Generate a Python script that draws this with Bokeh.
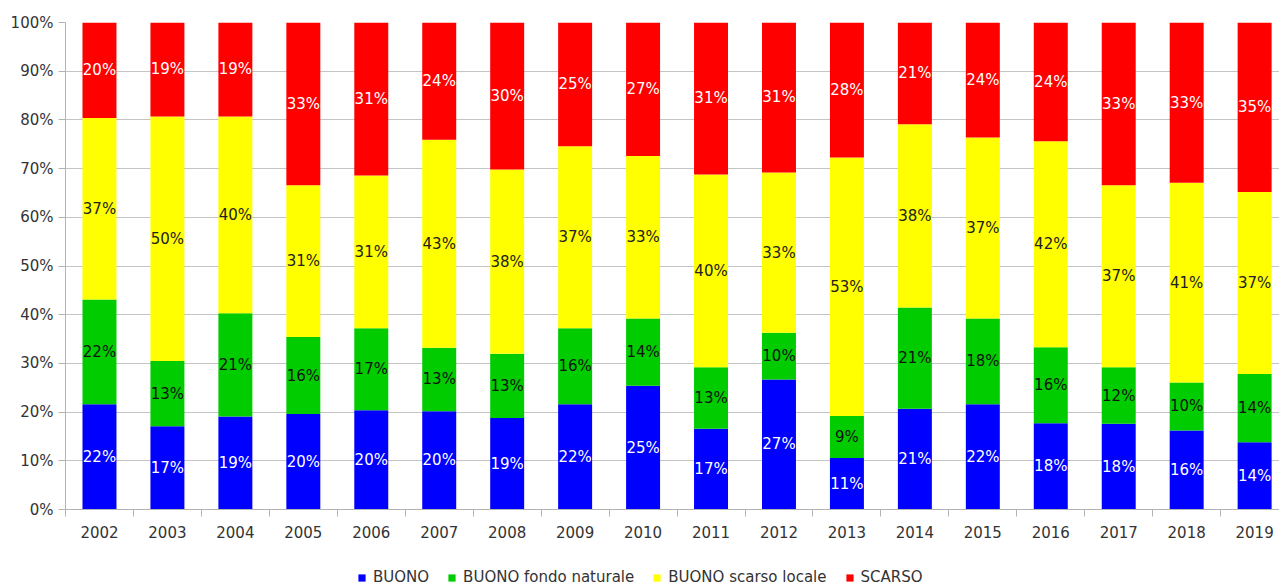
from bokeh.plotting import figure
from bokeh.layouts import column
from bokeh.models import (ColumnDataSource, Range1d, FixedTicker, PrintfTickFormatter,
                          Legend, LegendItem)
from bokeh.core.properties import value
from bokeh.embed import file_html
from bokeh.resources import INLINE

years = ["2002", "2003", "2004", "2005", "2006", "2007", "2008", "2009", "2010",
         "2011", "2012", "2013", "2014", "2015", "2016", "2017", "2018", "2019"]

buono = [21.6, 17.1, 19.1, 19.6, 20.4, 20.2, 18.8, 21.6, 25.4,
         16.6, 26.7, 10.6, 20.7, 21.6, 17.7, 17.6, 16.2, 13.8]
buono_fondo = [21.5, 13.4, 21.2, 15.8, 16.8, 13.0, 13.2, 15.6, 13.8,
               12.6, 9.6, 8.6, 20.8, 17.6, 15.6, 11.6, 9.9, 14.0]
buono_scarso = [37.3, 50.2, 40.4, 31.2, 31.4, 42.7, 37.8, 37.4, 33.4,
                39.6, 32.9, 53.1, 37.6, 37.2, 42.3, 37.4, 41.0, 37.4]
scarso = [19.6, 19.3, 19.3, 33.4, 31.4, 24.1, 30.2, 25.4, 27.4,
          31.2, 30.8, 27.7, 20.9, 23.6, 24.4, 33.4, 32.9, 34.8]

series_names = ["BUONO", "BUONO fondo naturale", "BUONO scarso locale", "SCARSO"]
series_values = [buono, buono_fondo, buono_scarso, scarso]
colors = ["#0000ff", "#00cc00", "#ffff00", "#ff0000"]
label_colors = ["#ffffff", "#111111", "#222222", "#ffffff"]

FONT = "DejaVu Sans"
AXIS_COLOR = "#b3b3b3"
TEXT_COLOR = "#333333"

xs = [i + 0.5 for i in range(len(years))]
keys = ["s0", "s1", "s2", "s3"]
data = {"x": xs}
for k, vals in zip(keys, series_values):
    data[k] = vals
src = ColumnDataSource(data)

x_end = 1214 / 67.95

p = figure(width=1279, height=540,
           x_range=Range1d(0, x_end), y_range=Range1d(0, 100),
           output_backend="svg", toolbar_location=None,
           min_border_left=65, min_border_top=22, min_border_right=0,
           min_border_bottom=31)

renderers = p.vbar_stack(keys, x="x", width=0.5, color=colors, line_color=None,
                         source=src)

# value labels
lx, ly, lt, lc = [], [], [], []
for i in range(len(years)):
    bottom = 0.0
    for s, vals in enumerate(series_values):
        v = vals[i]
        lx.append(xs[i])
        ly.append(bottom + v / 2.0)
        lt.append(f"{round(v)}%")
        lc.append(label_colors[s])
        bottom += v
lbl = ColumnDataSource(dict(x=lx, y=ly, text=lt, color=lc))
p.text(x="x", y="y", text="text", text_color="color", source=lbl,
       text_align="center", text_baseline="middle",
       text_font=value(FONT), text_font_size="15px")

# axes
p.outline_line_color = None
p.xgrid.visible = False
p.ygrid.grid_line_color = "#c4c4c4"
p.ygrid.grid_line_width = 1

p.yaxis.ticker = FixedTicker(ticks=list(range(0, 101, 10)), minor_ticks=[])
p.yaxis.formatter = PrintfTickFormatter(format="%d%%")
p.yaxis.axis_line_color = AXIS_COLOR
p.yaxis.major_tick_line_color = AXIS_COLOR
p.yaxis.major_tick_out = 7
p.yaxis.major_tick_in = 0
p.yaxis.minor_tick_line_color = None
p.yaxis.major_label_standoff = 5
p.yaxis.major_label_text_font = FONT
p.yaxis.major_label_text_font_size = "15px"
p.yaxis.major_label_text_color = TEXT_COLOR

p.xaxis.ticker = FixedTicker(ticks=xs, minor_ticks=list(range(0, 19)))
p.xaxis.major_label_overrides = {x: y for x, y in zip(xs, years)}
p.xaxis.axis_line_color = AXIS_COLOR
p.xaxis.major_tick_line_color = None
p.xaxis.major_tick_out = 0
p.xaxis.major_tick_in = 0
p.xaxis.minor_tick_line_color = AXIS_COLOR
p.xaxis.minor_tick_out = 7
p.xaxis.minor_tick_in = 0
p.xaxis.major_label_standoff = 9
p.xaxis.major_label_text_font = FONT
p.xaxis.major_label_text_font_size = "15px"
p.xaxis.major_label_text_color = TEXT_COLOR

# legend strip below the chart (same stacked series, drawn outside its visible y-range)
pl = figure(width=1279, height=46, x_range=Range1d(0, x_end), y_range=Range1d(200, 300),
            output_backend="svg", toolbar_location=None,
            min_border_left=0, min_border_right=0, min_border_top=0, min_border_bottom=0)
pl.axis.visible = False
pl.grid.visible = False
pl.outline_line_color = None
leg_renderers = pl.vbar_stack(keys, x="x", width=0.5, color=colors, line_color=None,
                              source=src)

legend = Legend(items=[LegendItem(label=n, renderers=[r]) for n, r in zip(series_names, leg_renderers)],
                orientation="horizontal", location=(292, 0),
                glyph_width=9, glyph_height=9, label_height=9, label_width=10,
                label_standoff=7, spacing=18, padding=0, margin=0,
                border_line_color=None, background_fill_alpha=0,
                label_text_font=FONT, label_text_font_size="15px",
                label_text_color=TEXT_COLOR)
pl.add_layout(legend)

layout = column(p, pl, spacing=0)
open("out.html", "w").write(file_html(layout, INLINE))
